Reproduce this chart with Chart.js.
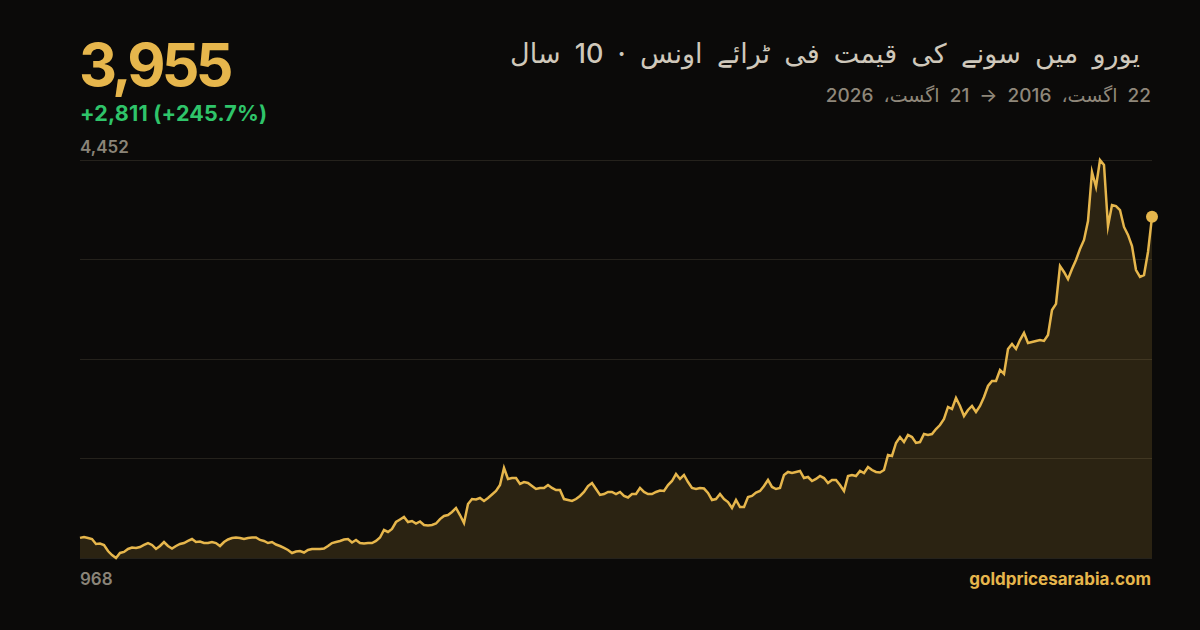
<!DOCTYPE html>
<html lang="ur">
<head>
<meta charset="utf-8">
<title>یورو میں سونے کی قیمت</title>
<script src="https://cdn.jsdelivr.net/npm/chart.js@4.4.1/dist/chart.umd.min.js"></script>
<style>
  html, body { margin: 0; padding: 0; }
  body {
    width: 1200px; height: 630px; overflow: hidden; position: relative;
    background: #0b0a09; font-family: Inter, "DejaVu Sans", sans-serif;
  }
  .abs { position: absolute; line-height: 1; white-space: nowrap; }
  #price { left: 79px; top: 35px; font-size: 59px; font-weight: 700; color: #e6b64c; letter-spacing: -3.8px; }
  #change { left: 80px; top: 103px; font-size: 21.5px; font-weight: 700; color: #2fc46a; letter-spacing: 0.2px; }
  #title { right: 60px; top: 40px; font-size: 27px; font-weight: 500; color: #cfc8bb; direction: rtl; word-spacing: 7px; }
  #subtitle { right: 49px; top: 86px; font-size: 19px; font-weight: 500; color: #8f877a; direction: rtl; word-spacing: 5px; }
  #yMax { left: 80px; top: 139px; font-size: 17px; font-weight: 600; color: #8a8478; }
  #yMin { left: 80px; top: 571px; font-size: 17px; font-weight: 600; color: #8a8478; }
  #site { right: 49px; top: 571px; font-size: 17px; font-weight: 700; color: #e6b64c; }
  #wrap { position: absolute; left: 70px; top: 150px; width: 1092px; height: 418px; }
</style>
</head>
<body>
<div id="price" class="abs"></div>
<div id="change" class="abs"></div>
<div id="title" class="abs">یورو میں سونے کی قیمت فی ٹرائے اونس · 10 سال</div>
<div id="subtitle" class="abs">22 اگست، 2016 → 21 اگست، 2026</div>
<div id="yMax" class="abs"></div>
<div id="yMin" class="abs"></div>
<div id="site" class="abs">goldpricesarabia.com</div>
<div id="wrap"><canvas id="goldChart"></canvas></div>

<script>
// Gold price in EUR per troy ounce, roughly every two weeks, 22 Aug 2016 -> 21 Aug 2026
const startDate = '2016-08-22';
const endDate = '2026-08-21';
const prices = [
  1144, 1152, 1143, 1134, 1091, 1095, 1082, 1029, 994, 968,
  1012, 1021, 1047, 1060, 1056, 1064, 1082, 1099, 1082, 1047,
  1073, 1108, 1073, 1051, 1073, 1091, 1099, 1117, 1134, 1108,
  1112, 1099, 1099, 1108, 1099, 1073, 1108, 1130, 1143, 1147,
  1143, 1134, 1143, 1147, 1147, 1126, 1117, 1099, 1108, 1086,
  1073, 1056, 1038, 1012, 1025, 1029, 1016, 1038, 1047, 1047,
  1047, 1051, 1073, 1099, 1108, 1117, 1130, 1134, 1104, 1126,
  1099, 1095, 1099, 1099, 1117, 1147, 1213, 1196, 1222, 1283,
  1305, 1327, 1283, 1292, 1270, 1288, 1257, 1253, 1257, 1270,
  1309, 1336, 1344, 1371, 1406, 1344, 1274, 1441, 1484, 1480,
  1493, 1467, 1493, 1524, 1555, 1607, 1756, 1660, 1668, 1668,
  1616, 1633, 1625, 1598, 1572, 1581, 1581, 1607, 1581, 1563,
  1563, 1484, 1476, 1467, 1484, 1511, 1546, 1598, 1625, 1572,
  1520, 1528, 1546, 1546, 1528, 1546, 1511, 1498, 1528, 1528,
  1581, 1546, 1528, 1528, 1546, 1559, 1555, 1607, 1642, 1703,
  1660, 1695, 1633, 1581, 1572, 1581, 1576, 1537, 1476, 1484,
  1528, 1484, 1458, 1406, 1476, 1414, 1414, 1502, 1511, 1541,
  1555, 1598, 1651, 1590, 1572, 1581, 1695, 1721, 1712, 1721,
  1730, 1668, 1677, 1642, 1660, 1686, 1668, 1625, 1651, 1651,
  1607, 1555, 1686, 1695, 1686, 1730, 1712, 1765, 1738, 1721,
  1716, 1738, 1870, 1861, 1975, 2027, 1983, 2045, 2027, 1975,
  1983, 2053, 2045, 2053, 2097, 2132, 2185, 2290, 2272, 2369,
  2299, 2211, 2264, 2299, 2246, 2299, 2377, 2474, 2517, 2517,
  2614, 2579, 2798, 2841, 2798, 2876, 2938, 2850, 2859, 2868,
  2876, 2868, 2920, 3139, 3192, 3524, 3472, 3410, 3498, 3577,
  3673, 3752, 3918, 4347, 4216, 4452, 4408, 3874, 4058, 4049,
  4014, 3866, 3796, 3699, 3489, 3428, 3445, 3647, 3955
];
const yMin = 968;
const yMax = 4452;

// date labels spread evenly between the two ends
const t0 = Date.parse(startDate), t1 = Date.parse(endDate);
const labels = prices.map((_, i) =>
  new Date(t0 + (t1 - t0) * i / (prices.length - 1)).toISOString().slice(0, 10));

const fmt = n => n.toLocaleString('en-US');
const first = prices[0], last = prices[prices.length - 1];
const diff = last - first;
document.getElementById('price').textContent = fmt(last);
document.getElementById('change').textContent =
  (diff >= 0 ? '+' : '') + fmt(diff) + ' (' + (diff >= 0 ? '+' : '') + (diff / first * 100).toFixed(1) + '%)';
document.getElementById('yMax').textContent = fmt(yMax);
document.getElementById('yMin').textContent = fmt(yMin);

const gold = '#e6b64c';
const lastIdx = prices.length - 1;

new Chart(document.getElementById('goldChart'), {
  type: 'line',
  data: {
    labels: labels,
    datasets: [{
      data: prices,
      borderColor: gold,
      borderWidth: 2.5,
      backgroundColor: 'rgba(230, 182, 76, 0.15)',
      fill: 'start',
      tension: 0,
      clip: 12,
      pointRadius: ctx => ctx.dataIndex === lastIdx ? 6 : 0,
      pointBackgroundColor: gold,
      pointBorderWidth: 0,
      pointHoverRadius: 0
    }]
  },
  options: {
    responsive: true,
    maintainAspectRatio: false,
    animation: false,
    layout: { padding: { left: 10, right: 10, top: 10, bottom: 10 } },
    plugins: { legend: { display: false }, tooltip: { enabled: false } },
    scales: {
      x: {
        display: true,
        offset: false,
        grid: { display: false },
        border: { display: false },
        ticks: { display: false },
        afterFit: s => { s.height = 0; }
      },
      y: {
        min: yMin,
        max: yMax,
        ticks: { display: false, stepSize: (yMax - yMin) / 4 },
        grid: { color: '#25221c', lineWidth: 1, drawTicks: false },
        border: { display: false },
        afterFit: s => { s.width = 0; }
      }
    }
  }
});
</script>
</body>
</html>
